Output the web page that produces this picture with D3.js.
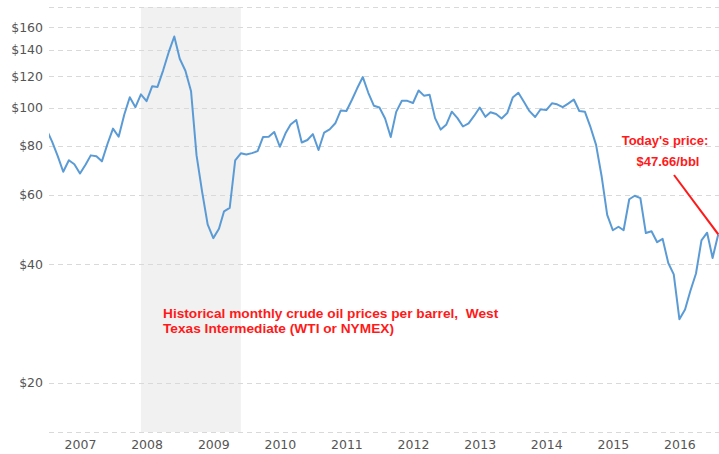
<!DOCTYPE html>
<html>
<head>
<meta charset="utf-8">
<script src="https://cdn.jsdelivr.net/npm/d3@7"></script>
<style>
	body { margin: 0; background: #fff; }
	svg { display: block; }
</style>
</head>
<body>
<div id="chart-area"></div>
<script>

// SVG Size
let width = 719,
	height = 454;

// monthly WTI prices (USD/bbl), first value is Jul 2006
let firstMonth = "2006-07";
let prices = [
	88, 81.9, 75.3, 68.7, 73.5, 71.8,
	68, 71.7, 75.6, 75.2, 73, 80.9, 88.4, 84.3, 96, 106.2, 100.2, 108,
	103.8, 113.3, 112.8, 124.3, 138, 151.5, 133, 124, 110, 75.7, 61, 50.5,
	46.6, 49.2, 54.5, 55.6, 73.4, 76.5, 76, 76.6, 77.5, 84.2, 84.3, 86.7,
	79.5, 86, 90.5, 93, 81.5, 82.7, 85.6, 78, 86.4, 88, 91.2, 98.3,
	98, 104.8, 111.9, 119.5, 109, 101, 100, 93.8, 84.2, 97.5, 104, 104,
	102.7, 110.5, 107.2, 107.8, 94, 87.9, 90.4, 97.6, 94, 89.5, 91.2, 95.2,
	100, 94.7, 97.3, 96.3, 93.8, 96.8, 106, 109, 103.3, 97.9, 94.6, 99,
	98.5, 102.5, 101.9, 100.2, 102.3, 104.8, 98, 97.5, 89, 80.4, 66.7, 53.4,
	48.8, 49.8, 48.8, 58.5, 59.7, 58.9, 48, 48.5, 45.5, 46.4, 40.3, 37.7,
	29, 30.7, 34.2, 37.9, 46, 48.1, 41.5, 47.66
];

let yTicks = [20, 40, 60, 80, 100, 120, 140, 160];
let yearTicks = [2007, 2008, 2009, 2010, 2011, 2012, 2013, 2014, 2015, 2016];
let recession = ["2007-12", "2009-06"];
let noteLines = ["Historical monthly crude oil prices per barrel,  West", "Texas Intermediate (WTI or NYMEX)"];
let todayLines = ["Today's price:", "$47.66/bbl"];

let parseMonth = d3.timeParse("%Y-%m");
let start = parseMonth(firstMonth);
let data = prices.map((p, i) => {
	return { date: d3.timeMonth.offset(start, i), price: p };
});

let svg = d3.select("#chart-area").append("svg")
	.attr("width", width)
	.attr("height", height);

let plotLeft = 49,
	plotRight = 719,
	plotTop = 7,
	plotBottom = 432;

let XScale = d3.scaleTime()
	.domain([new Date(2007, 0, 1), new Date(2016, 0, 1)])
	.range([80, 679.4]);

let YScale = d3.scaleLog()
	.domain([15, 180])
	.range([plotBottom, plotTop]);

svg.append("clipPath")
	.attr("id", "plot-clip")
	.append("rect")
	.attr("x", plotLeft)
	.attr("y", 0)
	.attr("width", plotRight - plotLeft)
	.attr("height", height);

// recession band
svg.append("rect")
	.attr("x", XScale(parseMonth(recession[0])))
	.attr("y", plotTop)
	.attr("width", XScale(parseMonth(recession[1])) - XScale(parseMonth(recession[0])))
	.attr("height", plotBottom - plotTop)
	.attr("fill", "#f1f1f1");

// dashed grid, including top and bottom edges
let gridValues = [15].concat(yTicks).concat([180]);
svg.append("g")
	.selectAll("line")
	.data(gridValues)
	.enter()
	.append("line")
	.attr("x1", plotLeft)
	.attr("x2", plotRight)
	.attr("y1", d => Math.round(YScale(d)) + 0.5)
	.attr("y2", d => Math.round(YScale(d)) + 0.5)
	.attr("stroke", "#d9d9d9")
	.attr("stroke-width", 1)
	.attr("stroke-dasharray", "5,4");

//The Axis
let yAxis = d3.axisLeft(YScale)
	.tickValues(yTicks)
	.tickFormat(d => "$" + d)
	.tickSize(0)
	.tickPadding(6);

svg.append("g")
	.attr("class", "axis y-axis")
	.attr("transform", "translate(" + plotLeft + ",0)")
	.call(yAxis)
	.call(g => g.select(".domain").remove());

let xAxis = d3.axisBottom(XScale)
	.tickValues(yearTicks.map(y => new Date(y, 0, 1)))
	.tickFormat(d3.timeFormat("%Y"))
	.tickSize(0)
	.tickPadding(8);

svg.append("g")
	.attr("class", "axis x-axis")
	.attr("transform", "translate(0," + plotBottom + ")")
	.call(xAxis)
	.call(g => g.select(".domain").remove());

svg.selectAll(".axis text")
	.attr("fill", "#555")
	.style("font-family", "'DejaVu Sans', Verdana, sans-serif")
	.style("font-size", "12.5px");

// price line
let line = d3.line()
	.x(d => XScale(d.date))
	.y(d => YScale(d.price));

svg.append("path")
	.datum(data)
	.attr("clip-path", "url(#plot-clip)")
	.attr("d", line)
	.attr("fill", "none")
	.attr("stroke", "#5b9bd5")
	.attr("stroke-width", 2)
	.attr("stroke-linejoin", "round");

// annotations
svg.append("text")
	.attr("x", 163)
	.attr("y", 318)
	.attr("fill", "#ff1a1a")
	.style("font-family", "'Liberation Sans', Arial, sans-serif")
	.style("font-weight", "bold")
	.style("font-size", "13.7px")
	.style("white-space", "pre")
	.selectAll("tspan")
	.data(noteLines)
	.enter()
	.append("tspan")
	.attr("x", 163)
	.attr("dy", (d, i) => i == 0 ? 0 : 15)
	.text(d => d);

svg.append("text")
	.attr("y", 145)
	.attr("fill", "#ff1a1a")
	.attr("text-anchor", "middle")
	.style("font-family", "'Liberation Sans', Arial, sans-serif")
	.style("font-weight", "bold")
	.style("font-size", "13px")
	.selectAll("tspan")
	.data(todayLines)
	.enter()
	.append("tspan")
	.attr("x", (d, i) => i == 0 ? 665 : 668)
	.attr("dy", (d, i) => i == 0 ? 0 : 21)
	.text(d => d);

let last = data[data.length - 1];
svg.append("line")
	.attr("x1", 674)
	.attr("y1", 175)
	.attr("x2", XScale(last.date))
	.attr("y2", YScale(last.price))
	.attr("stroke", "#ff1a1a")
	.attr("stroke-width", 2);

</script>
</body>
</html>
